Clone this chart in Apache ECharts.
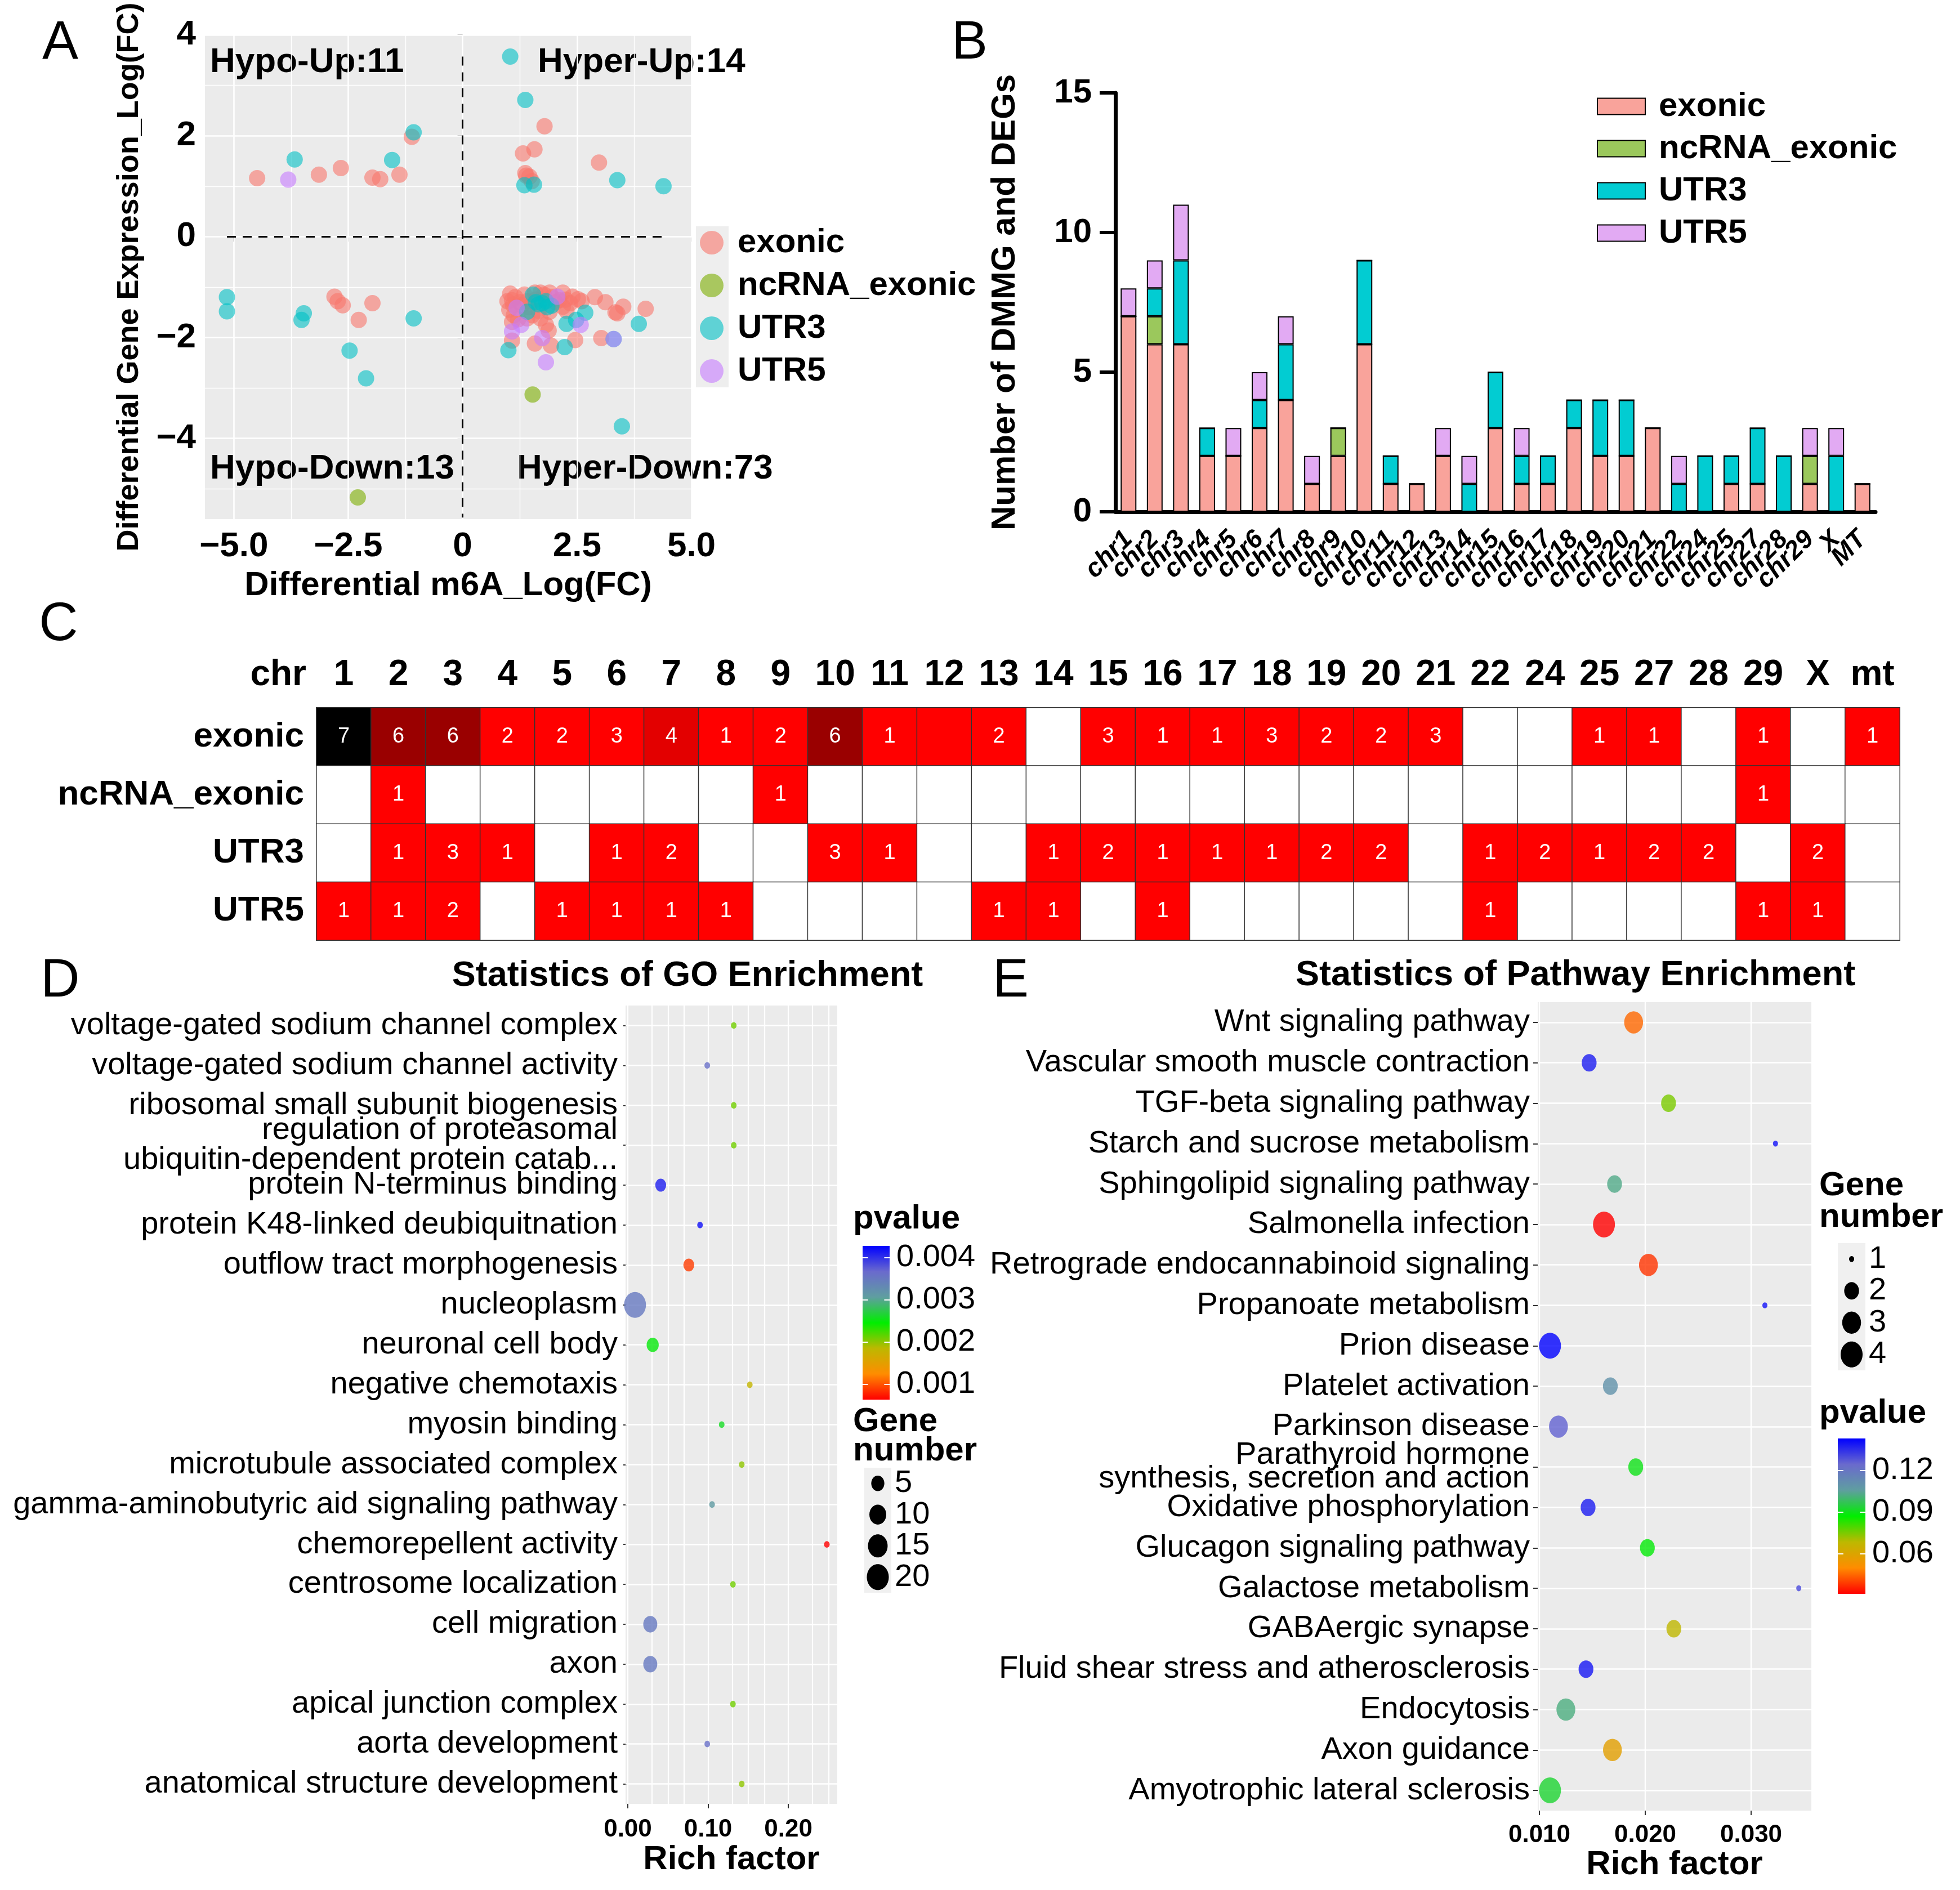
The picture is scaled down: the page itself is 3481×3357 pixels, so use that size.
<!DOCTYPE html>
<html>
<head>
<meta charset="utf-8">
<script src="https://cdn.jsdelivr.net/npm/echarts@6/dist/echarts.min.js"></script>
<style>
  html, body { margin: 0; padding: 0; background: #fff; }
  #main { position: absolute; left: 0; top: 0; width: 3481px; height: 3357px; }
  #panelA { position: absolute; left: 0; top: 0; width: 1740px; height: 1075px; z-index: 2; }
</style>
</head>
<body>
<div id="main"></div>
<div id="panelA"></div>
<script>
const FONT = '"Liberation Sans", Arial, sans-serif';

// ---------- A: m6A logFC vs expression logFC ----------
const regionTypes = ['exonic', 'ncRNA_exonic', 'UTR3', 'UTR5'];
const exonicPts = [
  [-4.49, 1.16], [-3.14, 1.23], [-2.66, 1.36], [-1.97, 1.17], [-1.80, 1.14], [-1.38, 1.23], [-1.11, 1.98],
  [1.79, 2.19], [1.57, 1.73], [1.32, 1.65], [1.37, 1.26], [1.46, 1.19], [1.51, 1.10], [2.98, 1.47], [1.39, 1.21],
  [-2.80, -1.19], [-2.73, -1.28], [-2.62, -1.36], [-1.97, -1.32], [-2.27, -1.65],
  [1.04, -1.13], [1.08, -1.26], [1.02, -1.45], [1.12, -1.56], [1.08, -1.69], [1.08, -2.06], [1.35, -1.15],
  [1.41, -1.28], [1.52, -1.56], [1.70, -1.62], [1.70, -1.11], [1.82, -1.75], [1.88, -1.86], [1.58, -2.12],
  [1.93, -2.16], [2.27, -1.47], [2.40, -1.19], [2.52, -1.24], [2.60, -1.28], [2.89, -1.20], [3.12, -1.30],
  [3.38, -1.52], [3.51, -1.39], [4.00, -1.43], [2.46, -2.05], [3.03, -2.01], [2.19, -1.11], [2.03, -1.30],
  [1.66, -1.47], [1.29, -1.36], [0.98, -1.28], [1.41, -1.62], [1.78, -1.15], [1.90, -1.11], [2.11, -1.26],
  [1.58, -1.11], [1.21, -1.64], [1.90, -1.49], [2.19, -1.39], [3.34, -1.50], [1.15, -1.20], [1.25, -1.30],
  [1.45, -1.40], [1.60, -1.25], [1.95, -1.20], [2.25, -1.25], [1.10, -1.35], [2.35, -1.32]
];
const ncrnaPts = [[-2.29, -5.17], [1.53, -3.13]];
const utr3Pts = [
  [-3.67, 1.53], [-1.54, 1.52], [-1.07, 2.07],
  [1.04, 3.57], [1.37, 2.71], [1.35, 1.02], [1.56, 1.03], [3.38, 1.12], [4.39, 1.00],
  [-5.15, -1.20], [-5.15, -1.48], [-3.47, -1.52], [-3.52, -1.65], [-1.07, -1.62], [-2.47, -2.26], [-2.11, -2.81],
  [1.74, -1.32], [1.82, -1.28], [1.66, -1.34], [1.54, -1.15], [1.41, -1.49], [2.68, -1.51], [2.27, -1.73],
  [2.48, -1.65], [3.85, -1.73], [2.23, -2.19], [1.00, -2.25], [1.94, -1.37], [3.30, -2.03], [1.60, -1.30],
  [1.85, -1.40], [3.48, -3.76]
];
const utr5Pts = [
  [-3.81, 1.13],
  [2.07, -1.19], [1.08, -1.88], [2.58, -1.75], [1.82, -2.49], [3.30, -2.03], [1.74, -2.01], [1.18, -1.41], [1.28, -1.75]
];
const scatterColors = ['#F8766D', '#7CAE00', '#00BFC4', '#C77CFF'];
const aXTicks = [-5, -2.5, 0, 2.5, 5];
const aXMinor = [-3.75, -1.25, 1.25, 3.75];
const aYTicks = [-4, -2, 0, 2, 4];
const aYMinor = [-5, -3, -1, 1, 3];
const quadrantLabels = ['Hypo-Up:11', 'Hyper-Up:14', 'Hypo-Down:13', 'Hyper-Down:73'];

// ---------- B / C: counts per chromosome ----------
const chrNames = ['chr1', 'chr2', 'chr3', 'chr4', 'chr5', 'chr6', 'chr7', 'chr8', 'chr9', 'chr10', 'chr11', 'chr12',
  'chr13', 'chr14', 'chr15', 'chr16', 'chr17', 'chr18', 'chr19', 'chr20', 'chr21', 'chr22', 'chr24', 'chr25',
  'chr27', 'chr28', 'chr29', 'X', 'MT'];
const chrShort = ['1', '2', '3', '4', '5', '6', '7', '8', '9', '10', '11', '12', '13', '14', '15', '16', '17', '18',
  '19', '20', '21', '22', '24', '25', '27', '28', '29', 'X', 'mt'];
const exonicCounts = [7, 6, 6, 2, 2, 3, 4, 1, 2, 6, 1, 1, 2, 0, 3, 1, 1, 3, 2, 2, 3, 0, 0, 1, 1, 0, 1, 0, 1];
const ncrnaCounts  = [0, 1, 0, 0, 0, 0, 0, 0, 1, 0, 0, 0, 0, 0, 0, 0, 0, 0, 0, 0, 0, 0, 0, 0, 0, 0, 1, 0, 0];
const utr3Counts   = [0, 1, 3, 1, 0, 1, 2, 0, 0, 3, 1, 0, 0, 1, 2, 1, 1, 1, 2, 2, 0, 1, 2, 1, 2, 2, 0, 2, 0];
const utr5Counts   = [1, 1, 2, 0, 1, 1, 1, 1, 0, 0, 0, 0, 1, 1, 0, 1, 0, 0, 0, 0, 0, 1, 0, 0, 0, 0, 1, 1, 0];
const barColors = ['#F9A39B', '#9BC85C', '#02CCD2', '#E2AAF3'];
const unlabeledCells = [[11, 0]]; // chr12 exonic has no number in the original

// ---------- D: GO enrichment ----------
const goTerms = [
  'voltage-gated sodium channel complex', 'voltage-gated sodium channel activity',
  'ribosomal small subunit biogenesis', 'regulation of proteasomal\nubiquitin-dependent protein catab...',
  'protein N-terminus binding', 'protein K48-linked deubiquitnation', 'outflow tract morphogenesis',
  'nucleoplasm', 'neuronal cell body', 'negative chemotaxis', 'myosin binding', 'microtubule associated complex',
  'gamma-aminobutyric aid signaling pathway', 'chemorepellent activity', 'centrosome localization',
  'cell migration', 'axon', 'apical junction complex', 'aorta development', 'anatomical structure development'
];
const goRich  = [0.132, 0.099, 0.132, 0.132, 0.041, 0.090, 0.076, 0.009, 0.031, 0.152,
                 0.117, 0.142, 0.105, 0.248, 0.131, 0.028, 0.028, 0.131, 0.099, 0.142];
const goGenes = [1, 1, 1, 1, 3, 1, 3, 20, 4, 1, 1, 1, 1, 1, 1, 6, 6, 1, 1, 1];
const goP     = [0.0021, 0.0036, 0.0021, 0.0021, 0.0041, 0.0042, 0.0009, 0.0035, 0.0025, 0.0018,
                 0.0026, 0.0020, 0.0031, 0.00064, 0.0021, 0.0035, 0.0035, 0.0021, 0.0036, 0.0020];
const goXTicks = [0, 0.1, 0.2];
const goXGrid = [0, 0.025, 0.05, 0.075, 0.1, 0.125, 0.15, 0.175, 0.2, 0.225, 0.25];
const goPTicks = [0.001, 0.002, 0.003, 0.004];
const goSizeBreaks = [5, 10, 15, 20];

// ---------- E: KEGG pathway enrichment ----------
const pathTerms = [
  'Wnt signaling pathway', 'Vascular smooth muscle contraction', 'TGF-beta signaling pathway',
  'Starch and sucrose metabolism', 'Sphingolipid signaling pathway', 'Salmonella infection',
  'Retrograde endocannabinoid signaling', 'Propanoate metabolism', 'Prion disease', 'Platelet activation',
  'Parkinson disease', 'Parathyroid hormone\nsynthesis, secretion and action', 'Oxidative phosphorylation',
  'Glucagon signaling pathway', 'Galactose metabolism', 'GABAergic synapse',
  'Fluid shear stress and atherosclerosis', 'Endocytosis', 'Axon guidance', 'Amyotrophic lateral sclerosis'
];
const pathRich  = [0.0189, 0.0147, 0.0222, 0.0323, 0.0171, 0.0161, 0.0203, 0.0313, 0.0110, 0.0167,
                   0.0118, 0.0191, 0.0146, 0.0202, 0.0345, 0.0227, 0.0144, 0.0125, 0.0169, 0.0110];
const pathGenes = [3, 2, 2, 1, 2, 4, 3, 1, 4, 2, 3, 2, 2, 2, 1, 2, 2, 3, 3, 4];
const pathP     = [0.045, 0.138, 0.075, 0.140, 0.103, 0.031, 0.038, 0.140, 0.143, 0.110,
                   0.126, 0.090, 0.138, 0.088, 0.130, 0.068, 0.139, 0.102, 0.058, 0.093];
const pathXTicks = [0.01, 0.02, 0.03];
const pathXGrid = [0.01, 0.0125, 0.015, 0.0175, 0.02, 0.0225, 0.025, 0.0275, 0.03, 0.0325, 0.035];
const pathPTicks = [0.06, 0.09, 0.12];
const pathSizeBreaks = [1, 2, 3, 4];

const pColors = ['#ff0000', '#ff8c00', '#bdb800', '#00ee00', '#5f9ea0', '#6a6acd', '#0000ff'];

// ---------- helpers ----------
const DOT_ASPECT = 1.18; // enrichment panels were stretched vertically
const minus = s => String(s).replace('-', '\u2212');
const areaSize = (nMin, nMax, dMin, dMax) => n => dMin + (dMax - dMin) * Math.sqrt(Math.max(0, n - nMin) / (nMax - nMin));
const sizeGO = areaSize(1, 20, 10, 39);
const sizePath = areaSize(1, 4, 9, 39);

const major = { color: '#fff', width: 2.6, type: 'solid' };
const minor = { color: '#fff', width: 1.4, type: 'solid' };
const vLines = (vals, style) => vals.map(v => ({ xAxis: v, lineStyle: style }));
const hLines = (vals, style) => vals.map(v => ({ yAxis: v, lineStyle: style }));
const lineHelper = (xi, yi, data) => ({
  type: 'scatter', xAxisIndex: xi, yAxisIndex: yi, data: [], z: 1, silent: true,
  markLine: { z: 1, silent: true, animation: false, symbol: ['none', 'none'], label: { show: false }, data }
});

function panelLabel(text, x, y) {
  return { type: 'text', x, y, style: { text, font: '96px ' + FONT, fill: '#000', align: 'center', verticalAlign: 'middle' } };
}
function plainText(text, x, y, size, bold, align, lineHeight) {
  return { type: 'text', x, y, style: {
    text, font: (bold ? 'bold ' : '') + size + 'px ' + FONT, fill: '#000',
    align: align || 'left', verticalAlign: 'middle', lineHeight: lineHeight || size } };
}
function colorbar(x, y, w, h, min, max, ticks, fmt) {
  const stops = pColors.map((c, i) => ({ offset: i / (pColors.length - 1), color: c }));
  const els = [{ type: 'rect', shape: { x, y, width: w, height: h },
    style: { fill: new echarts.graphic.LinearGradient(0, 1, 0, 0, stops) } }];
  ticks.forEach(v => {
    const ty = y + (max - v) / (max - min) * h;
    els.push({ type: 'line', shape: { x1: x, y1: ty, x2: x + w * 0.2, y2: ty }, style: { stroke: '#fff', lineWidth: 2 } });
    els.push({ type: 'line', shape: { x1: x + w * 0.8, y1: ty, x2: x + w, y2: ty }, style: { stroke: '#fff', lineWidth: 2 } });
    els.push(plainText(fmt(v), x + w + 12, ty, 56, false));
  });
  return els;
}
function sizeLegend(x, y, w, h, breaks, sizeFn) {
  const els = [{ type: 'rect', shape: { x, y, width: w, height: h }, style: { fill: '#F0F0F0' } }];
  const step = h / breaks.length;
  breaks.forEach((b, i) => {
    const cy = y + step * (i + 0.5);
    const d = sizeFn(b);
    els.push({ type: 'ellipse', shape: { cx: x + w / 2, cy, rx: d / 2, ry: d * DOT_ASPECT / 2 }, style: { fill: '#000' } });
    els.push(plainText(String(b), x + w + 6, cy, 56, false));
  });
  return els;
}

// ================= Panel A =================
const chartA = echarts.init(document.getElementById('panelA'));
const aPoints = [exonicPts, ncrnaPts, utr3Pts, utr5Pts];
chartA.setOption({
  animation: false,
  textStyle: { fontFamily: FONT },
  grid: { left: 364, top: 62, width: 864, height: 864, show: true, backgroundColor: '#EBEBEB', borderWidth: 0 },
  xAxis: {
    type: 'value', min: -5.63, max: 5.0,
    axisLine: { show: false }, splitLine: { show: false },
    axisTick: { show: true, length: 9, customValues: aXTicks, lineStyle: { color: '#333', width: 2 } },
    axisLabel: { customValues: aXTicks, fontSize: 62, fontWeight: 'bold', color: '#000', margin: 18,
      formatter: v => v === 0 ? '0' : minus(v.toFixed(1)) },
    name: 'Differential m6A_Log(FC)', nameLocation: 'middle', nameGap: 88,
    nameTextStyle: { fontSize: 60, fontWeight: 'bold', color: '#000' }
  },
  yAxis: {
    type: 'value', min: -5.6, max: 4.0,
    axisLine: { show: false }, splitLine: { show: false },
    axisTick: { show: true, length: 9, customValues: aYTicks, lineStyle: { color: '#333', width: 2 } },
    axisLabel: { customValues: aYTicks, fontSize: 62, fontWeight: 'bold', color: '#000', margin: 16,
      formatter: v => minus(v) },
    name: 'Differential Gene Expression_Log(FC)', nameLocation: 'middle', nameGap: 107,
    nameTextStyle: { fontSize: 54, fontWeight: 'bold', color: '#000' }
  },
  legend: {
    data: regionTypes, orient: 'vertical', left: 1243, top: 401, padding: 0,
    icon: 'circle', itemWidth: 42, itemHeight: 42, itemGap: 16, selectedMode: false,
    itemStyle: { opacity: 0.6 },
    textStyle: { fontSize: 60, fontWeight: 'bold', color: '#000', lineHeight: 60, padding: [0, 0, 0, 20] }
  },
  series: [
    lineHelper(0, 0, [...vLines(aXMinor, minor), ...hLines(aYMinor, minor), ...vLines(aXTicks, major), ...hLines(aYTicks, major)]),
    {
      type: 'scatter', data: [], z: 2, silent: true,
      markLine: {
        z: 2, silent: true, animation: false, symbol: ['none', 'none'], label: { show: false },
        lineStyle: { color: '#000', width: 3, type: [16, 12] },
        data: [
          [{ coord: [0, 3.57] }, { coord: [0, -5.57] }],
          [{ coord: [-5.15, 0] }, { coord: [4.4, 0] }]
        ]
      }
    },
    ...regionTypes.map((t, i) => ({
      name: t, type: 'scatter', data: aPoints[i], symbolSize: 29, z: 10, silent: true,
      itemStyle: { color: scatterColors[i], opacity: 0.6 }
    }))
  ],
  graphic: [
    { type: 'rect', z: 0, shape: { x: 1236, y: 402, width: 58, height: 286 }, style: { fill: '#EEEEEE' } },
    panelLabel('A', 107, 78),
    plainText(quadrantLabels[0], 373, 111, 62, true),
    plainText(quadrantLabels[1], 955, 111, 62, true),
    plainText(quadrantLabels[2], 373, 833, 62, true),
    plainText(quadrantLabels[3], 918, 833, 62, true)
  ]
});

// ================= Panels B-E =================
const chart = echarts.init(document.getElementById('main'));
const countArrays = [exonicCounts, ncrnaCounts, utr3Counts, utr5Counts];
const heatData = [];
countArrays.forEach((arr, r) => arr.forEach((v, c) => heatData.push([c, r, v])));
const isUnlabeled = (c, r) => unlabeledCells.some(u => u[0] === c && u[1] === r);

const goMin = 0.00064, goMax = 0.00428;
const pathMin = 0.0312, pathMax = 0.1431;
const vGrid = { color: '#fff', width: 2.2, type: 'solid' };

chart.setOption({
  animation: false,
  textStyle: { fontFamily: FONT },
  grid: [
    { left: 1981, top: 165, width: 1350, height: 744 },
    { left: 562, top: 1257, width: 2812, height: 413 },
    { left: 1111, top: 1786, width: 376, height: 1418, show: true, backgroundColor: '#EBEBEB', borderWidth: 0 },
    { left: 2731, top: 1780, width: 486, height: 1436, show: true, backgroundColor: '#EBEBEB', borderWidth: 0 }
  ],
  xAxis: [
    {
      gridIndex: 0, type: 'category', data: chrNames,
      axisLine: { lineStyle: { color: '#000', width: 7 } },
      axisTick: { alignWithLabel: true, length: 31, lineStyle: { color: '#000', width: 6 } },
      axisLabel: { interval: 0, rotate: 45, margin: 42, fontSize: 46, fontWeight: 'bold', fontStyle: 'italic', color: '#000' }
    },
    {
      gridIndex: 1, type: 'category', data: chrShort, position: 'top',
      axisLine: { show: false }, axisTick: { show: false }, splitLine: { show: false },
      axisLabel: { interval: 0, margin: 26, fontSize: 64, fontWeight: 'bold', color: '#000' }
    },
    {
      gridIndex: 2, type: 'value', min: -0.0028, max: 0.261,
      axisLine: { show: false }, splitLine: { show: false },
      axisTick: { show: true, length: 8, customValues: goXTicks, lineStyle: { color: '#333', width: 2 } },
      axisLabel: { customValues: goXTicks, formatter: v => v.toFixed(2), fontSize: 44, fontWeight: 'bold', color: '#000', margin: 24 },
      name: 'Rich factor', nameLocation: 'middle', nameGap: 69,
      nameTextStyle: { fontSize: 60, fontWeight: 'bold', color: '#000' }
    },
    {
      gridIndex: 3, type: 'value', min: 0.00984, max: 0.03569,
      axisLine: { show: false }, splitLine: { show: false },
      axisTick: { show: true, length: 8, customValues: pathXTicks, lineStyle: { color: '#333', width: 2 } },
      axisLabel: { customValues: pathXTicks, formatter: v => v.toFixed(3), fontSize: 44, fontWeight: 'bold', color: '#000', margin: 22 },
      name: 'Rich factor', nameLocation: 'middle', nameGap: 63,
      nameTextStyle: { fontSize: 60, fontWeight: 'bold', color: '#000' }
    }
  ],
  yAxis: [
    {
      gridIndex: 0, type: 'value', min: 0, max: 15, interval: 5,
      axisLine: { show: true, lineStyle: { color: '#000', width: 7 } },
      axisTick: { show: true, length: 28, lineStyle: { color: '#000', width: 6 } },
      splitLine: { show: false },
      axisLabel: { fontSize: 60, fontWeight: 'bold', color: '#000', margin: 42 },
      name: 'Number of DMMG and DEGs', nameLocation: 'middle', nameGap: 166,
      nameTextStyle: { fontSize: 60, fontWeight: 'bold', color: '#000' }
    },
    {
      gridIndex: 1, type: 'category', data: regionTypes, inverse: true,
      axisLine: { show: false }, axisTick: { show: false }, splitLine: { show: false },
      axisLabel: { margin: 22, fontSize: 62, fontWeight: 'bold', color: '#000' }
    },
    {
      gridIndex: 2, type: 'category', data: goTerms, inverse: true,
      axisLine: { show: false }, splitLine: { show: false },
      axisTick: { show: true, alignWithLabel: true, length: 8, lineStyle: { color: '#333', width: 2 } },
      axisLabel: { interval: 0, margin: 14, fontSize: 56, color: '#000', lineHeight: 53 }
    },
    {
      gridIndex: 3, type: 'category', data: pathTerms, inverse: true,
      axisLine: { show: false }, splitLine: { show: false },
      axisTick: { show: true, alignWithLabel: true, length: 8, lineStyle: { color: '#333', width: 2 } },
      axisLabel: { interval: 0, margin: 14, fontSize: 56, color: '#000', lineHeight: 42 }
    }
  ],
  legend: {
    data: regionTypes, orient: 'vertical', left: 2836, top: 159, padding: 0,
    icon: 'rect', itemWidth: 85, itemHeight: 29, itemGap: 15, selectedMode: false,
    itemStyle: { borderColor: '#000', borderWidth: 2 },
    textStyle: { fontSize: 60, fontWeight: 'bold', color: '#000', lineHeight: 60, padding: [0, 0, 0, 19] }
  },
  visualMap: [
    { type: 'piecewise', show: false, seriesIndex: 4, dimension: 2,
      pieces: [
        { value: 0, color: '#ffffff' }, { min: 1, max: 3, color: '#ff0000' }, { value: 4, color: '#e30000' },
        { value: 5, color: '#c00000' }, { value: 6, color: '#9a0000' }, { value: 7, color: '#000000' }
      ] },
    { type: 'continuous', show: false, seriesIndex: 6, dimension: 2, min: goMin, max: goMax, inRange: { color: pColors } },
    { type: 'continuous', show: false, seriesIndex: 8, dimension: 2, min: pathMin, max: pathMax, inRange: { color: pColors } }
  ],
  series: [
    ...regionTypes.map((t, i) => ({
      name: t, type: 'bar', stack: 'chr', xAxisIndex: 0, yAxisIndex: 0, barWidth: 28,
      data: countArrays[i], silent: true,
      itemStyle: { color: barColors[i], borderColor: '#000', borderWidth: 2 }
    })),
    {
      type: 'heatmap', xAxisIndex: 1, yAxisIndex: 1, data: heatData, silent: true,
      itemStyle: { borderColor: '#333', borderWidth: 1.5 },
      label: { show: true, color: '#fff', fontSize: 38,
        formatter: p => (p.value[2] > 0 && !isUnlabeled(p.value[0], p.value[1])) ? String(p.value[2]) : '' }
    },
    lineHelper(2, 2, [...vLines(goXGrid, vGrid), ...hLines(goTerms.map((t, i) => i), major)]),
    {
      type: 'scatter', xAxisIndex: 2, yAxisIndex: 2, z: 10, silent: true,
      data: goTerms.map((t, i) => [goRich[i], i, goP[i], goGenes[i]]),
      symbolSize: v => [sizeGO(v[3]), sizeGO(v[3]) * DOT_ASPECT]
    },
    lineHelper(3, 3, [...vLines(pathXGrid, vGrid), ...hLines(pathTerms.map((t, i) => i), major)]),
    {
      type: 'scatter', xAxisIndex: 3, yAxisIndex: 3, z: 10, silent: true,
      data: pathTerms.map((t, i) => [pathRich[i], i, pathP[i], pathGenes[i]]),
      symbolSize: v => [sizePath(v[3]), sizePath(v[3]) * DOT_ASPECT]
    }
  ],
  graphic: [
    panelLabel('B', 1722, 78),
    panelLabel('C', 104, 1111),
    panelLabel('D', 107, 1744),
    panelLabel('E', 1795, 1744),
    plainText('chr', 544, 1199, 64, true, 'right'),
    plainText('Statistics of GO Enrichment', 1221, 1734, 63, true, 'center'),
    plainText('Statistics of Pathway Enrichment', 2798, 1733, 63, true, 'center'),
    // D legends
    plainText('pvalue', 1515, 2165, 60, true),
    ...colorbar(1532, 2213, 48, 273, goMin, goMax, goPTicks, v => v.toFixed(3)),
    plainText('Gene\nnumber', 1515, 2551, 60, true, 'left', 52),
    ...sizeLegend(1535, 2607, 48, 222, goSizeBreaks, sizeGO),
    // E legends
    plainText('Gene\nnumber', 3231, 2134, 60, true, 'left', 56),
    ...sizeLegend(3264, 2208, 49, 226, pathSizeBreaks, sizePath),
    plainText('pvalue', 3231, 2510, 60, true),
    ...colorbar(3264, 2555, 49, 276, pathMin, pathMax, pathPTicks, v => v.toFixed(2))
  ]
});
</script>
</body>
</html>
